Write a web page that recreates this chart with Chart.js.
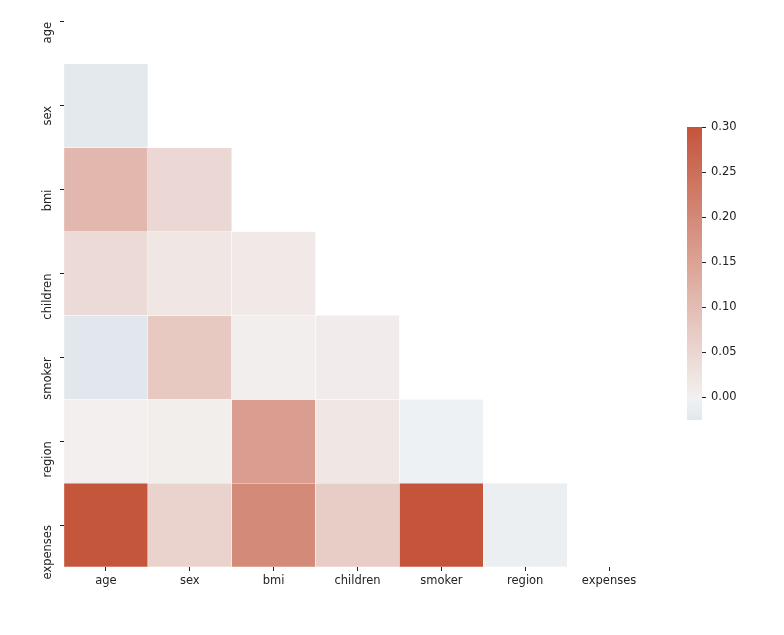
<!DOCTYPE html>
<html><head><meta charset="utf-8">
<script src="https://cdn.jsdelivr.net/npm/chart.js@4.4.1/dist/chart.umd.min.js"></script>
<style>
html,body{margin:0;padding:0;background:#fff;}
#wrap{position:relative;width:784px;height:635px;}
canvas{position:absolute;left:0;top:0;}
</style></head><body>
<div id="wrap"><canvas id="heat" width="784" height="635"></canvas><canvas id="cbar" width="784" height="635"></canvas></div>
<script>
// ---- data ----
const variables = ['age', 'sex', 'bmi', 'children', 'smoker', 'region', 'expenses'];
// lower-triangle correlations: row variable vs. columns age .. (row-1)
const corrSex      = [-0.021];
const corrBmi      = [0.109, 0.046];
const corrChildren = [0.042, 0.017, 0.013];
const corrSmoker   = [-0.025, 0.076, 0.004, 0.008];
const corrRegion   = [0.002, 0.005, 0.158, 0.017, -0.002];
const corrExpenses = [0.299, 0.057, 0.198, 0.068, 0.787, -0.006];
const colorbarTicks = [0.00, 0.05, 0.10, 0.15, 0.20, 0.25, 0.30];
const vmax = 0.30;

const rowsCorr = [[], corrSex, corrBmi, corrChildren, corrSmoker, corrRegion, corrExpenses];
const vmin = Math.min(...rowsCorr.flat());

// ---- colour map (diverging 230 -> 20, light centre, centre = 0) ----
const C_NEG = [62, 116, 150], C_NEGL = [238, 241, 243], C_MID = [241, 241, 241],
      C_POSL = [242, 239, 238], C_POS = [196, 85, 59];
const SPAN = Math.max(vmax, -vmin);
const EPS = SPAN * 2 / 254;
function lerp(a, b, t) { return a.map((x, i) => Math.round(x + (b[i] - x) * t)); }
function cmap(v) {
  v = Math.max(-SPAN, Math.min(SPAN, v));
  let c;
  if (v >= 0) c = v < EPS ? lerp(C_MID, C_POSL, v / EPS) : lerp(C_POSL, C_POS, (v - EPS) / (SPAN - EPS));
  else { const a = -v; c = a < EPS ? lerp(C_MID, C_NEGL, a / EPS) : lerp(C_NEGL, C_NEG, (a - EPS) / (SPAN - EPS)); }
  return `rgb(${c[0]},${c[1]},${c[2]})`;
}

const FONT = { family: 'DejaVu Sans', size: 11.5 };
const TXT = '#222';
const TICK_LEN = 4;

const datasets = [];
rowsCorr.forEach((vals, i) => {
  if (!vals.length) return;
  datasets.push({
    label: variables[i],
    data: variables.map((_, j) => j < vals.length ? [i, i + 1] : null),
    backgroundColor: variables.map((_, j) => j < vals.length ? cmap(vals[j]) : 'rgba(0,0,0,0)'),
    borderColor: '#ffffff',
    borderWidth: 0.5,
    borderSkipped: false,
    grouped: false,
    barPercentage: 1,
    categoryPercentage: 1
  });
});

new Chart(document.getElementById('heat'), {
  type: 'bar',
  data: { labels: variables, datasets },
  options: {
    responsive: false, animation: false, events: [],
    plugins: { legend: { display: false }, tooltip: { enabled: false } },
    layout: { padding: { left: 0, top: 0, right: 133, bottom: 0 } },
    scales: {
      x: {
        type: 'category', offset: true,
        grid: { display: true, drawOnChartArea: false, drawTicks: true, tickLength: TICK_LEN, color: TXT, offset: false },
        border: { display: false },
        ticks: { font: FONT, color: TXT, padding: 3, maxRotation: 0, minRotation: 0, autoSkip: false },
        afterFit: s => { s.height = 68; s.paddingLeft = 0; s.paddingRight = 0; }
      },
      y: {
        type: 'linear', reverse: true, min: 0.238, max: 7,
        afterBuildTicks: s => { s.ticks = variables.map((_, i) => ({ value: i + 0.5 })); },
        ticks: {
          callback: v => variables[Math.floor(v)],
          font: FONT, color: TXT, minRotation: 90, maxRotation: 90,
          crossAlign: 'near', padding: 11.5, autoSkip: false
        },
        grid: { display: true, drawOnChartArea: false, drawTicks: true, tickLength: TICK_LEN, color: TXT, offset: false },
        border: { display: false },
        afterFit: s => { s.width = 64; s.paddingTop = 0; s.paddingBottom = 0; }
      }
    }
  }
});

// ---- colour bar ----
function barGradient(context) {
  const chart = context.chart;
  if (!chart.chartArea) return 'rgb(241,241,241)';
  const ys = chart.scales.y;
  const y0 = ys.getPixelForValue(vmax), y1 = ys.getPixelForValue(vmin);
  const g = chart.ctx.createLinearGradient(0, y0, 0, y1);
  const N = 80;
  for (let k = 0; k <= N; k++) {
    const v = vmax - (vmax - vmin) * k / N;
    g.addColorStop(k / N, cmap(v));
  }
  return g;
}

new Chart(document.getElementById('cbar'), {
  type: 'bar',
  data: { labels: [''], datasets: [{ data: [[vmin, vmax]], backgroundColor: barGradient, borderWidth: 0, barPercentage: 1, categoryPercentage: 1 }] },
  options: {
    responsive: false, animation: false, events: [],
    plugins: { legend: { display: false }, tooltip: { enabled: false } },
    layout: { padding: { left: 687, top: 127, right: 0, bottom: 635 - 420 } },
    scales: {
      x: { display: false, offset: true },
      y: {
        position: 'right', min: vmin, max: vmax,
        afterBuildTicks: s => { s.ticks = colorbarTicks.map(v => ({ value: v })); },
        ticks: { callback: v => Number(v).toFixed(2), font: FONT, color: TXT, padding: 5, autoSkip: false },
        grid: { display: true, drawOnChartArea: false, drawTicks: true, tickLength: TICK_LEN, color: TXT },
        border: { display: false },
        afterFit: s => { s.width = 82; s.paddingTop = 0; s.paddingBottom = 0; }
      }
    }
  }
});
</script>
</body></html>
